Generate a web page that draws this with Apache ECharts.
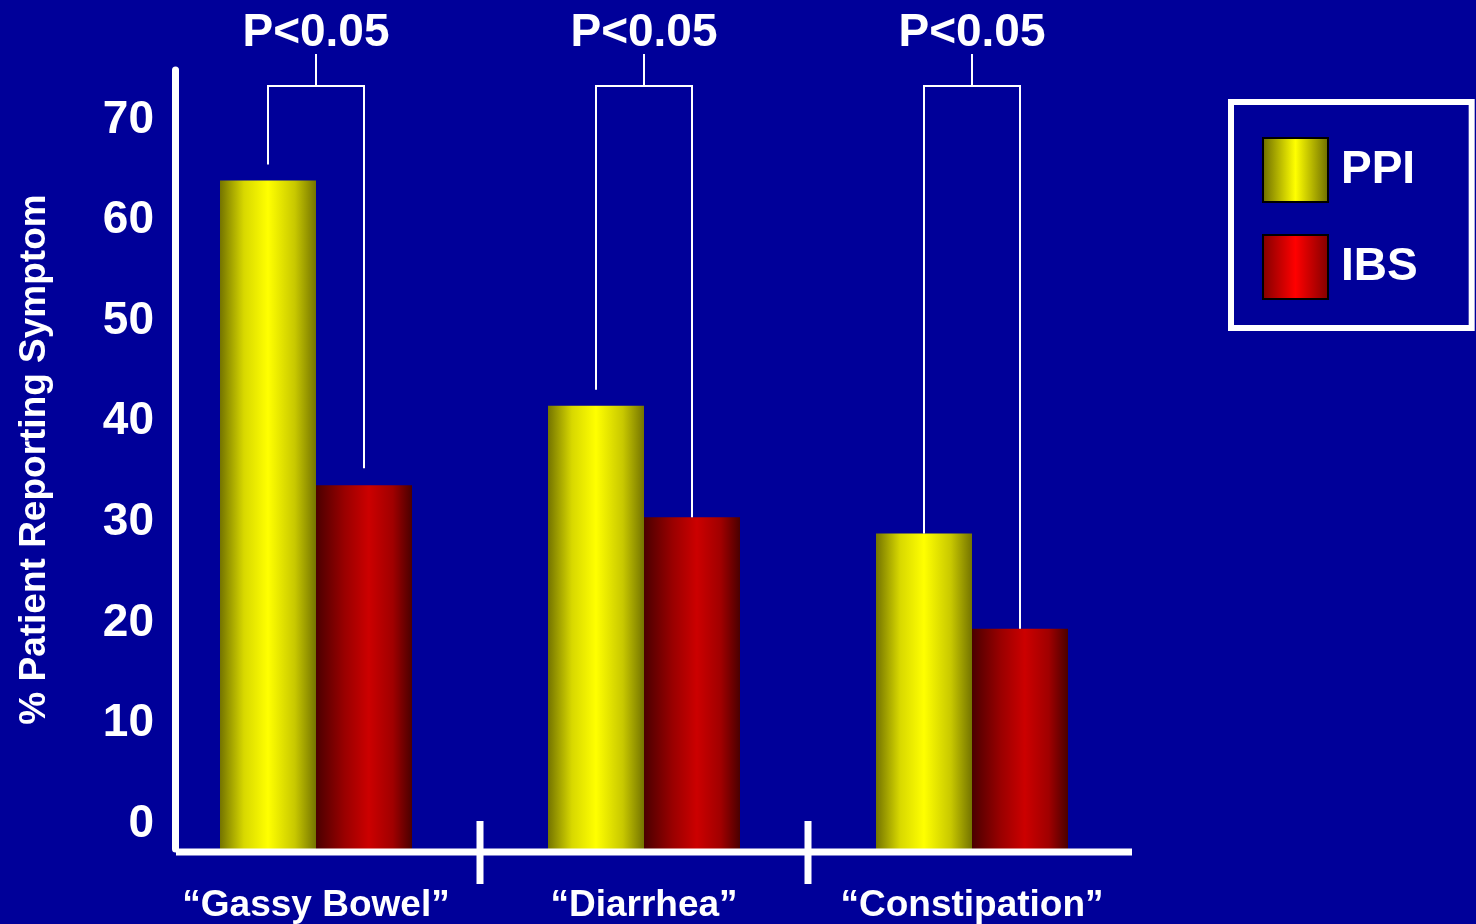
<!DOCTYPE html>
<html>
<head>
<meta charset="utf-8">
<script src="https://cdn.jsdelivr.net/npm/echarts@6/dist/echarts.min.js"></script>
<style>
  html, body { margin: 0; padding: 0; background: #000099; }
  #chart { width: 1476px; height: 924px; }
</style>
</head>
<body>
<div id="chart"></div>
<script>
// ---- data ----
const categories = ['\u201CGassy Bowel\u201D', '\u201CDiarrhea\u201D', '\u201CConstipation\u201D'];
const seriesNames = ['PPI', 'IBS'];
const ppiValues = [64.0, 41.6, 28.9];
const ibsValues = [33.7, 30.5, 19.4];
const pLabels = ['P<0.05', 'P<0.05', 'P<0.05'];
const yTickValues = [0, 10, 20, 30, 40, 50, 60, 70];
const yAxisTitle = '% Patient Reporting Symptom';

// ---- styles ----
const FONT = '"Liberation Sans", Arial, sans-serif';
const BAR_W = 96;
const LEG_GAP_PPI = [16, 16, 0];
const LEG_GAP_IBS = [17, 0, 0];

function hGrad(stops) {
  return new echarts.graphic.LinearGradient(0, 0, 1, 0, stops.map(s => ({offset: s[0], color: s[1]})));
}
const ppiBar = hGrad([[0, '#747400'], [0.25, '#d8d800'], [0.5, '#ffff00'], [0.78, '#c8c800'], [1, '#747400']]);
const ibsBar = hGrad([[0, '#4a0000'], [0.3, '#9a0000'], [0.55, '#cc0000'], [0.8, '#a00000'], [1, '#4a0000']]);
const ppiLeg = hGrad([[0, '#6a6a00'], [0.5, '#ffff00'], [1, '#6a6a00']]);
const ibsLeg = hGrad([[0, '#800000'], [0.5, '#ff0000'], [1, '#800000']]);

const chart = echarts.init(document.getElementById('chart'), null, {renderer: 'canvas'});

const option = {
  backgroundColor: '#000099',
  animation: false,
  grid: { left: 152, width: 984, top: 70, bottom: 74, containLabel: false },
  legend: {
    orient: 'vertical',
    left: 1231, top: 102,
    padding: [35, 54, 28, 31],
    borderColor: '#ffffff', borderWidth: 6,
    itemWidth: 65, itemHeight: 64, itemGap: 31,
    icon: 'rect',
    selectedMode: false,
    textStyle: { color: '#ffffff', fontSize: 46, fontWeight: 'bold', fontFamily: FONT, padding: [0, 0, 0, 8] },
    data: [
      { name: seriesNames[0], itemStyle: { color: ppiLeg, borderColor: '#000000', borderWidth: 2 } },
      { name: seriesNames[1], itemStyle: { color: ibsLeg, borderColor: '#000000', borderWidth: 2 } }
    ]
  },
  xAxis: {
    type: 'category',
    data: categories,
    axisLine: { show: false },
    axisTick: { show: false },
    axisLabel: { interval: 0, color: '#ffffff', fontSize: 37, fontWeight: 'bold', fontFamily: FONT, margin: 38 }
  },
  yAxis: {
    type: 'value',
    min: -2.5, max: 75, interval: 2.5,
    startValue: -2.5,
    offset: -23,
    splitLine: { show: false },
    axisTick: { show: false },
    axisLine: { show: true, lineStyle: { color: '#ffffff', width: 7 } },
    axisLabel: {
      color: '#ffffff', fontSize: 46, fontWeight: 'bold', fontFamily: FONT, margin: 21,
      formatter: v => (yTickValues.indexOf(Math.round(v * 100) / 100) >= 0 ? String(Math.round(v)) : '')
    },
    name: yAxisTitle,
    nameLocation: 'middle',
    nameRotate: 90,
    nameGap: 122,
    nameTextStyle: { color: '#ffffff', fontSize: 37, fontWeight: 'bold', fontFamily: FONT }
  },
  series: [
    { name: seriesNames[0], type: 'bar', data: ppiValues, barWidth: BAR_W, barGap: '0%',
      itemStyle: { color: ppiBar } },
    { name: seriesNames[1], type: 'bar', data: ibsValues, barWidth: BAR_W, barGap: '0%',
      itemStyle: { color: ibsBar } },
    {
      name: 'annotations', type: 'custom', z: 5, silent: true,
      data: categories.map((c, i) => [i, ppiValues[i], ibsValues[i]]),
      encode: { x: 0, y: 1 },
      renderItem: function (params, api) {
        const i = api.value(0);
        const cs = params.coordSys;
        const c = api.coord([i, 0])[0];
        const band = api.size([1, 0])[0];
        const xl = c - BAR_W / 2, xr = c + BAR_W / 2;
        const yP = api.coord([i, api.value(1)])[1] - LEG_GAP_PPI[i];
        const yI = api.coord([i, api.value(2)])[1] - LEG_GAP_IBS[i];
        const yBr = cs.y + 16;
        const bottom = cs.y + cs.height;
        const children = [
          { type: 'polyline', shape: { points: [[xl, yP], [xl, yBr], [xr, yBr], [xr, yI]] },
            style: { stroke: '#ffffff', lineWidth: 2, fill: 'none' } },
          { type: 'line', shape: { x1: c, y1: cs.y - 16, x2: c, y2: yBr },
            style: { stroke: '#ffffff', lineWidth: 2 } },
          { type: 'text', style: { text: pLabels[i], x: c, y: cs.y - 37, align: 'center', verticalAlign: 'middle',
            fill: '#ffffff', font: 'bold 46px ' + FONT } }
        ];
        if (i < categories.length - 1) {
          children.push({ type: 'line', shape: { x1: c + band / 2, y1: bottom - 28, x2: c + band / 2, y2: bottom + 35 },
            style: { stroke: '#ffffff', lineWidth: 7 } });
        }
        if (i === 0) {
          children.push({ type: 'line', shape: { x1: cs.x + 24, y1: bottom + 3, x2: cs.x + cs.width - 4, y2: bottom + 3 },
            style: { stroke: '#ffffff', lineWidth: 7 } });
        }
        return { type: 'group', children: children };
      }
    }
  ]
};
chart.setOption(option);
</script>
</body>
</html>
